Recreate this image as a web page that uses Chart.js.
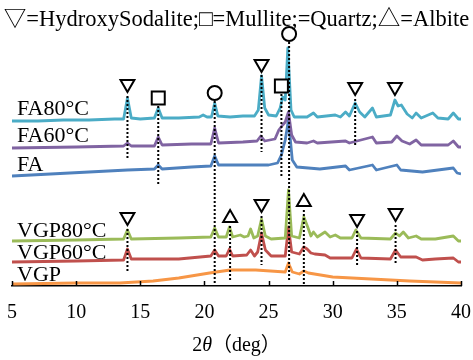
<!DOCTYPE html>
<html>
<head>
<meta charset="utf-8">
<script src="https://cdn.jsdelivr.net/npm/chart.js@4.4.1/dist/chart.umd.min.js"></script>
<style>
  html, body { margin: 0; padding: 0; background: #fff; }
</style>
</head>
<body>
<canvas id="xrd" width="473" height="360"></canvas>
<script>
// 2θ tick labels
const twoThetaTicks = [5, 10, 15, 20, 25, 30, 35, 40];

// sample names (top to bottom) and colours
const sampleNames = ['FA80°C', 'FA60°C', 'FA', 'VGP80°C', 'VGP60°C', 'VGP'];
const sampleColors = ['#4BACC6', '#8064A2', '#4F81BD', '#9BBB59', '#C0504D', '#F79646'];

// stacked intensity (a.u.) vs 2θ
const fa80 = [[5,165],[7,165],[9,166],[11,166],[13,167],[13.7,167],[14.0,188],[14.3,168],[15,167],[16.1,168],[16.4,178],[16.7,168],[18,168],[19.6,169],[19.9,171],[20.2,169],[20.55,169],[20.8,183],[21.05,170],[22,169],[23,170],[23.9,170],[24.2,176],[24.45,210],[24.7,178],[25.0,171],[25.6,170],[25.9,178],[26.1,189],[26.3,186],[26.5,238],[26.75,176],[27.0,169],[28,169],[28.5,173],[28.8,169],[30.2,171],[30.6,169],[31.0,174],[31.3,170],[31.75,183],[32.1,174],[32.5,169],[33.1,178],[33.4,169],[34.5,171],[34.85,186],[35.1,180],[35.35,181],[35.8,172],[36.2,168],[36.5,173],[36.9,168],[37.8,173],[38.2,168],[39.0,167],[39.4,173],[39.8,167],[40,167]];
const fa60 = [[5,138],[10,139],[13.7,140],[14.0,143],[14.3,140],[16.1,140],[16.4,149],[16.7,141],[19,142],[20.5,142],[20.8,158],[21.1,143],[23,144],[24.1,145],[24.4,150],[24.7,145],[25.5,147],[25.8,156],[26.1,161],[26.3,164],[26.55,174],[26.8,151],[27.1,144],[28,143],[28.5,145],[28.8,143],[31.0,145],[31.3,143],[33.1,149],[33.4,143],[34.6,144],[35.0,150],[35.4,145],[36.0,142],[36.5,146],[36.9,141],[38,141],[39.0,141],[39.4,145],[39.8,139],[40,139]];
const fa = [[5,110],[8,112],[11,114],[14,116],[16.1,117],[16.4,121],[16.7,117],[19,119],[20.5,120],[20.8,130],[21.1,121],[23,121],[25,121],[25.7,123],[26.0,131],[26.3,146],[26.55,166],[26.85,126],[27.2,119],[29,117],[31.0,120],[31.3,116],[33.1,121],[33.4,116],[35.0,121],[35.3,116],[37,114],[39.4,118],[39.7,113],[40,112]];
const vgp80 = [[5,45],[10,46],[13.7,47],[14.0,56],[14.3,47],[18,48],[20.5,49],[20.8,58],[21.1,49],[21.7,49],[21.95,59],[22.2,49],[22.8,51],[23.1,49],[23.4,50],[23.6,57],[23.85,48],[24.15,50],[24.45,67],[24.75,50],[25.2,47],[26.3,48],[26.55,96],[26.8,50],[27.4,48],[27.75,69],[28.05,59],[28.3,50],[28.5,54],[28.8,49],[29.4,54],[29.8,49],[30.2,51],[30.6,48],[31.5,48],[31.8,56],[32.2,48],[34.5,47],[34.9,53],[35.2,50],[35.5,54],[35.9,48],[36.5,50],[36.9,47],[38,47],[39.4,50],[39.8,45],[40,45]];
const vgp60 = [[5,24],[10,25],[13.7,26],[14.0,37],[14.3,27],[18,27],[20.5,30],[20.8,36],[21.1,30],[21.7,30],[21.95,37],[22.2,30],[23.3,31],[23.6,36],[23.9,30],[24.15,34],[24.45,53],[24.75,36],[25.2,30],[26.3,30],[26.55,59],[26.8,34],[27.4,32],[27.75,39],[28.0,37],[28.3,33],[28.6,32],[29.4,31],[29.8,28],[31.5,28],[31.85,37],[32.2,28],[34.5,27],[34.9,36],[35.3,29],[36.5,29],[37,26],[38,27],[39.4,28],[39.8,24],[40,24]];
const vgp = [[5,2],[10,3],[13.4,3],[16,5],[18,8],[20.4,13],[22,16],[24,16],[26.3,14],[26.55,23],[26.85,14],[27.4,12],[27.75,15],[28.1,13],[30,9],[33,7],[36,5],[40,3]];
const sampleData = [fa80, fa60, fa, vgp80, vgp60, vgp];

// phase markers: kind, 2θ, symbol height, dotted drop line (top, bottom)
const markerKind = ['sod','mul','qtz','sod','mul','qtz','sod','sod','sod','alb','sod','alb','sod','sod'];
const markerPos = [14.0,16.4,20.8,24.45,26.0,26.6,31.75,34.85,14.0,22.0,24.45,27.75,31.9,34.9];
const markerHeight = [202,188,193,222,200,252,199,199,69,68,82,84,67,73];
const dropTop = [190,180,185,211,192,244,187,null,57,60,70,76,55,61];
const dropBottom = [128,101,2,134,110,6,139,null,13,4,21,0,21,23];

const markerStyle = {
  sod: { pointStyle: 'triangle', radius: 8, rotation: 180 },
  mul: { pointStyle: 'rect', radius: 9.2, rotation: 0 },
  qtz: { pointStyle: 'circle', radius: 7, rotation: 0 },
  alb: { pointStyle: 'triangle', radius: 8, rotation: 0 }
};

const dropData = [];
markerPos.forEach((p, i) => {
  if (dropTop[i] === null) return;
  dropData.push({ x: p, y: dropTop[i] }, { x: p, y: dropBottom[i] }, { x: p, y: null });
});

const datasets = [{
  data: dropData, borderColor: '#000', borderWidth: 2, borderDash: [2, 2],
  pointRadius: 0, spanGaps: false, fill: false, clip: false
}];
Object.keys(markerStyle).forEach(k => {
  const s = markerStyle[k];
  datasets.push({
    data: markerPos.map((p, i) => ({ x: p, y: markerHeight[i], k: markerKind[i] })).filter(d => d.k === k),
    showLine: false, pointStyle: s.pointStyle, pointRadius: s.radius, pointRotation: s.rotation,
    pointBackgroundColor: '#fff', pointBorderColor: '#000', pointBorderWidth: 2, clip: false
  });
});
sampleData.forEach((d, i) => {
  datasets.push({
    data: d.map(p => ({ x: p[0], y: p[1] })),
    borderColor: sampleColors[i], borderWidth: 2.8, pointRadius: 0,
    tension: 0, borderJoinStyle: 'round', fill: false
  });
});

const labelBaseline = [115, 142, 171, 237, 259, 281];

const decor = {
  id: 'decor',
  afterDraw(chart) {
    const ctx = chart.ctx, xs = chart.scales.x, area = chart.chartArea;
    ctx.save();
    // inward tick marks
    ctx.strokeStyle = '#000'; ctx.lineWidth = 1.5;
    twoThetaTicks.forEach(t => {
      const px = Math.round(xs.getPixelForValue(t)) + 0.5;
      ctx.beginPath(); ctx.moveTo(px, area.bottom); ctx.lineTo(px, area.bottom - 5); ctx.stroke();
    });
    // sample labels
    ctx.fillStyle = '#000';
    ctx.font = '22px "Liberation Serif"';
    ctx.textAlign = 'left'; ctx.textBaseline = 'alphabetic';
    sampleNames.forEach((n, i) => ctx.fillText(n, 17, labelBaseline[i]));
    // legend line at top
    ctx.font = '22.5px "Liberation Serif", "Noto Sans CJK JP"';
    ctx.textAlign = 'center';
    ctx.fillText('▽=HydroxySodalite;□=Mullite;=Quartz;△=Albite', 236.5, 26);
    // axis title: 2θ（deg）
    const parts = [['2', '20px "Liberation Serif"'], ['θ', 'italic 20px "Liberation Serif"'], ['（deg）', '20px "Liberation Serif", "Noto Sans CJK JP"']];
    let w = 0;
    parts.forEach(p => { ctx.font = p[1]; w += ctx.measureText(p[0]).width; });
    let x = (area.left + area.right) / 2 - w / 2;
    ctx.textAlign = 'left'; ctx.textBaseline = 'middle';
    parts.forEach(p => { ctx.font = p[1]; ctx.fillText(p[0], x, 346); x += ctx.measureText(p[0]).width; });
    ctx.restore();
  }
};

new Chart(document.getElementById('xrd'), {
  type: 'line',
  data: { datasets },
  options: {
    responsive: false,
    animation: false,
    layout: { autoPadding: false, padding: { left: 12, right: 12, top: 0, bottom: 35 } },
    plugins: { legend: { display: false }, tooltip: { enabled: false } },
    scales: {
      x: {
        type: 'linear', min: 5, max: 40,
        afterBuildTicks: s => { s.ticks = twoThetaTicks.map(v => ({ value: v })); },
        afterFit: s => { s.height = 39; s.paddingLeft = 0; s.paddingRight = 0; },
        grid: { drawOnChartArea: false, drawTicks: false },
        border: { display: true, color: '#000', width: 1.5 },
        ticks: { padding: 15, color: '#000', font: { family: 'Liberation Serif', size: 20 } }
      },
      y: { display: false, min: 0, max: 286 }
    }
  },
  plugins: [decor]
});
</script>
</body>
</html>
